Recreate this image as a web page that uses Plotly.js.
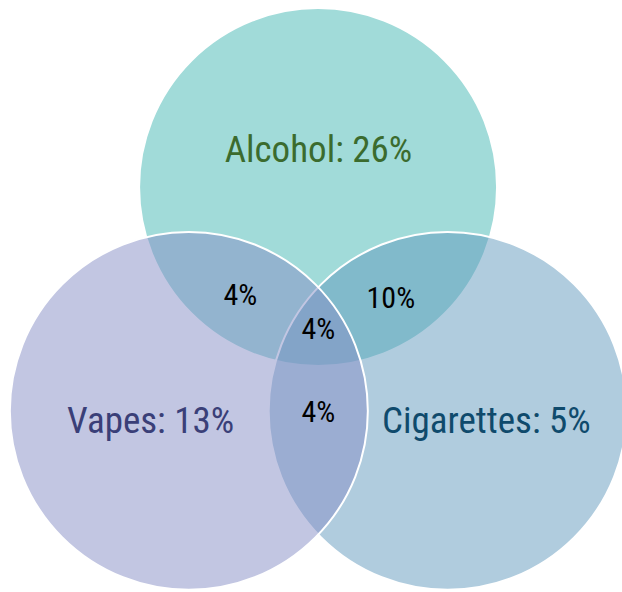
<!DOCTYPE html>
<html>
<head>
<meta charset="utf-8">
<script src="https://cdn.plot.ly/plotly-3.0.1.min.js"></script>
<style>
  html, body { margin: 0; padding: 0; background: #fff; }
  #chart { width: 622px; height: 592px; }
  #chart .annotation-text { font-stretch: 87.5%; }
</style>
</head>
<body>
<div id="chart"></div>
<script>
// Share of respondents by substance used (single sets and overlaps)
const setNames = ['Alcohol', 'Vapes', 'Cigarettes'];
const setShares = [26, 13, 5];
const pairNames = ['Alcohol & Vapes', 'Alcohol & Cigarettes', 'Vapes & Cigarettes'];
const pairShares = [4, 10, 4];
const tripleShare = 4;

// Layout of the diagram, in units of one circle radius
const radius = 1;
const circleCenters = {
  Alcohol:    [0, 0],
  Vapes:      [-0.722, -1.251],
  Cigarettes: [0.724, -1.251]
};
const circleFills = {
  Alcohol:    'rgb(161,219,217)',
  Vapes:      'rgba(133,141,197,0.5)',
  Cigarettes: 'rgba(97,153,189,0.5)'
};
const labelColors = {
  Alcohol:    '#3b6b2e',
  Vapes:      '#3a3f78',
  Cigarettes: '#0f4a6c'
};
const setLabelPos = {
  Alcohol:    [0, 0.212],
  Vapes:      [-0.939, -1.307],
  Cigarettes: [0.939, -1.307]
};
const pairLabelPos = {
  'Alcohol & Vapes':      [-0.436, -0.598],
  'Alcohol & Cigarettes': [0.408, -0.615],
  'Vapes & Cigarettes':   [0, -1.257]
};
const tripleLabelPos = [0, -0.788];

// Stacking order: later circles paint over earlier ones
const drawOrder = ['Alcohol', 'Cigarettes', 'Vapes'];

const shapes = drawOrder.map(name => {
  const [cx, cy] = circleCenters[name];
  return {
    type: 'circle', xref: 'x', yref: 'y', layer: 'above',
    x0: cx - radius, x1: cx + radius, y0: cy - radius, y1: cy + radius,
    fillcolor: circleFills[name],
    line: { color: '#ffffff', width: 2 }
  };
});

const font = 'Roboto, "Noto Sans", sans-serif';
const annotations = [];
setNames.forEach((name, i) => {
  annotations.push({
    x: setLabelPos[name][0], y: setLabelPos[name][1], xref: 'x', yref: 'y',
    text: name + ': ' + setShares[i] + '%', showarrow: false,
    xanchor: 'center', yanchor: 'middle',
    font: { family: font, size: 37, color: labelColors[name] }
  });
});
pairNames.forEach((name, i) => {
  annotations.push({
    x: pairLabelPos[name][0], y: pairLabelPos[name][1], xref: 'x', yref: 'y',
    text: pairShares[i] + '%', showarrow: false,
    xanchor: 'center', yanchor: 'middle',
    font: { family: font, size: 30, color: '#000000' }
  });
});
annotations.push({
  x: tripleLabelPos[0], y: tripleLabelPos[1], xref: 'x', yref: 'y',
  text: tripleShare + '%', showarrow: false,
  xanchor: 'center', yanchor: 'middle',
  font: { family: font, size: 30, color: '#000000' }
});

const layout = {
  width: 622, height: 592,
  margin: { l: 0, r: 0, t: 0, b: 0 },
  paper_bgcolor: '#ffffff', plot_bgcolor: '#ffffff',
  showlegend: false,
  xaxis: { range: [-1.777, 1.698], visible: false, fixedrange: true },
  yaxis: { range: [-2.263, 1.045], visible: false, fixedrange: true },
  shapes: shapes,
  annotations: annotations
};

Plotly.newPlot('chart', [], layout, { displayModeBar: false, staticPlot: true });
</script>
</body>
</html>
